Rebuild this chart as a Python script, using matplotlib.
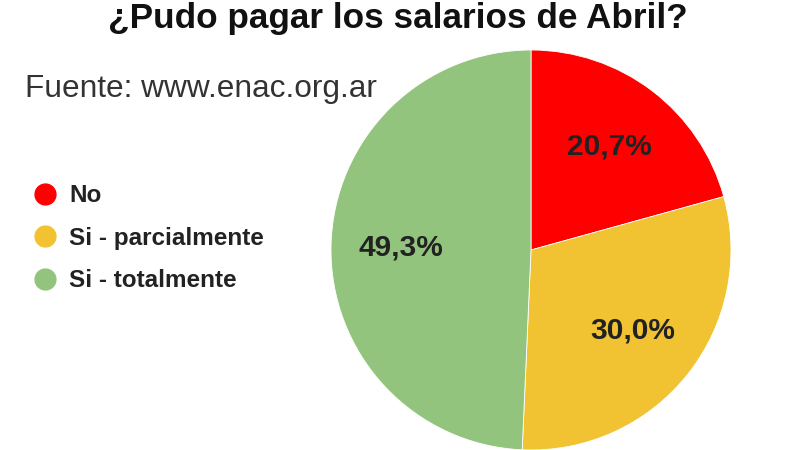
import matplotlib
matplotlib.use("Agg")
import matplotlib.pyplot as plt
from matplotlib.lines import Line2D

# datos
categorias = ["No", "Si - parcialmente", "Si - totalmente"]
porcentajes = [20.7, 30.0, 49.3]
colores = ["#ff0000", "#f1c232", "#93c47d"]

titulo = "¿Pudo pagar los salarios de Abril?"
fuente = "Fuente: www.enac.org.ar"

plt.rcParams['font.family'] = ['Liberation Sans', 'DejaVu Sans']

fig = plt.figure(figsize=(8, 4.5), dpi=100)
fig.patch.set_facecolor("white")

# pie axes: centre ~ (531, 250) px, radius ~200 px
ax = fig.add_axes([331 / 800, 0 / 450, 400 / 800, 400 / 450])
wedges, texts, autotexts = ax.pie(
    porcentajes,
    colors=colores,
    startangle=90,
    counterclock=False,
    autopct=lambda p: f"{p:.1f}%".replace(".", ","),
    pctdistance=0.65,
    radius=1.0,
    wedgeprops=dict(linewidth=0.6, edgecolor="white"),
    textprops=dict(fontsize=21.5, fontweight="bold", color="#222222"),
)
ax.set_xlim(-1, 1)
ax.set_ylim(-1, 1)
ax.set_aspect("equal")
ax.axis("off")

fig.text(398 / 800, 1 - 28 / 450, titulo, ha="center", va="baseline",
         fontsize=25.3, fontweight="bold", color="#111111")
fig.text(25 / 800, 1 - 97 / 450, fuente, ha="left", va="baseline",
         fontsize=22.8, color="#333333")

handles = [Line2D([0], [0], marker="o", linestyle="none", markersize=15,
                  markerfacecolor=c, markeredgecolor=c) for c in colores]
leg = fig.legend(handles, categorias, loc="upper left",
                 bbox_to_anchor=(22 / 800, 1 - 172 / 450), frameon=False,
                 prop=dict(size=17.5, weight="bold"), labelspacing=0.8,
                 handletextpad=0.55, handlelength=0.9, borderpad=0)
for t in leg.get_texts():
    t.set_color("#222222")

fig.savefig("out.png", dpi=100, facecolor="white")
